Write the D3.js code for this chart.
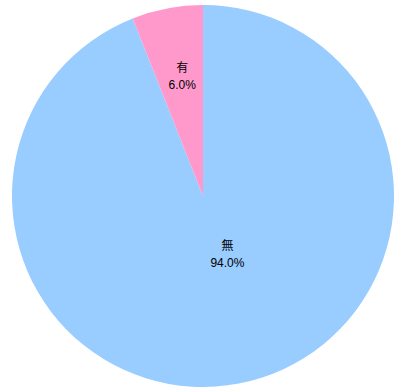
<!DOCTYPE html>
<html>
<head>
<meta charset="utf-8">
<script src="https://cdn.jsdelivr.net/npm/d3@7"></script>
<style>
  html, body { margin: 0; padding: 0; background: #fff; }
</style>
</head>
<body>
<svg id="chart" width="400" height="389"></svg>
<script>
const categories = ["無", "有"];
const values = [94.0, 6.0];
const colors = ["#99CCFF", "#FF99CC"];
// Excel-style label placement: distance from centre (fraction of radius) and angle nudge (deg)
const labelRadius = [0.33, 0.64];
const labelNudge = [-12, 1];

const svg = d3.select("#chart");
const cx = 203, cy = 196, radius = 191;

const g = svg.append("g").attr("transform", `translate(${cx},${cy})`);

const pie = d3.pie().sort(null).value(d => d.value);
const arcs = pie(categories.map((c, i) => ({ name: c, value: values[i], i })));

const arc = d3.arc().innerRadius(0).outerRadius(radius);

g.selectAll("path")
  .data(arcs)
  .join("path")
  .attr("d", arc)
  .attr("fill", d => colors[d.data.i]);

// Labels
const labels = g.selectAll("g.label")
  .data(arcs)
  .join("g")
  .attr("class", "label")
  .attr("transform", d => {
    const mid = (d.startAngle + d.endAngle) / 2 + labelNudge[d.data.i] * Math.PI / 180;
    const r = radius * labelRadius[d.data.i];
    return `translate(${r * Math.sin(mid)},${-r * Math.cos(mid)})`;
  });

labels.append("text")
  .attr("text-anchor", "middle")
  .attr("y", -4)
  .style("font-family", "'Noto Sans CJK JP', sans-serif")
  .style("font-size", "12px")
  .style("fill", "#000")
  .text(d => d.data.name);

labels.append("text")
  .attr("text-anchor", "middle")
  .attr("y", 13)
  .style("font-family", "'Liberation Sans', Arial, sans-serif")
  .style("font-size", "12px")
  .style("fill", "#000")
  .text(d => d3.format(".1f")(d.data.value) + "%");
</script>
</body>
</html>
